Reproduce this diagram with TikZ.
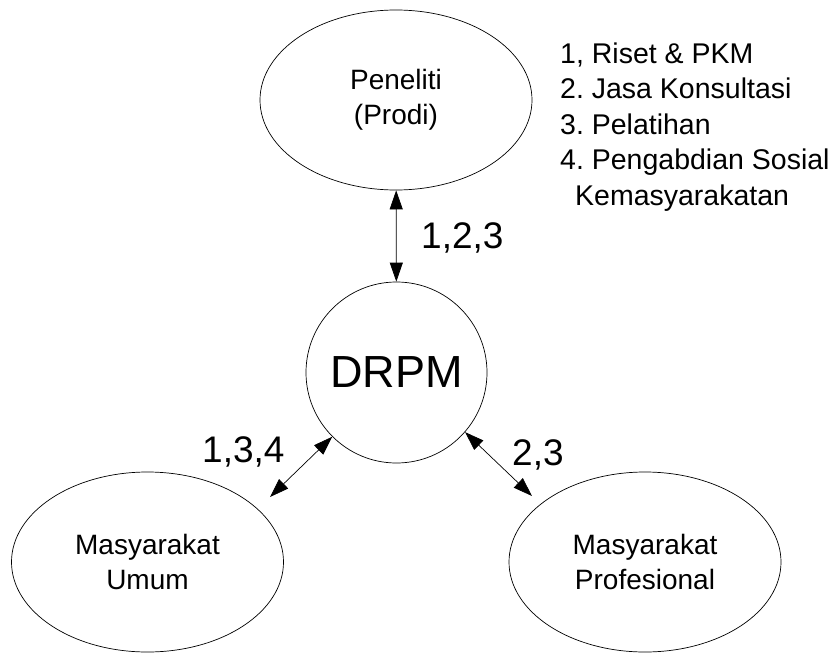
\documentclass[tikz,border=0pt]{standalone}
\usepackage{fontspec}
\setmainfont{Liberation Sans}
\usetikzlibrary{shapes.geometric, arrows.meta}
\frenchspacing

\begin{document}
\begin{tikzpicture}[x=1pt, y=-1pt,
    party/.style={draw, ellipse, line width=0.7pt, minimum width=272pt, minimum height=180pt, inner sep=0pt, align=center, font=\fontsize{28}{34.5}\selectfont},
    hub/.style={draw, circle, line width=0.7pt, minimum size=181pt, inner sep=0pt, font=\fontsize{45}{54}\selectfont},
    flow/.style={{Triangle[length=19pt,width=13pt]}-{Triangle[length=19pt,width=13pt]}, line width=0.7pt},
    code/.style={anchor=base west, inner sep=0pt, font=\fontsize{37}{44}\selectfont}]
    \useasboundingbox (0,0) rectangle (838,653);

    % parties
    \node[party] (peneliti) at (396,100) {Peneliti\\(Prodi)};
    \node[hub] (drpm) at (396.5,372.5) {DRPM};
    \node[party] (umum) at (147.5,562) {Masyarakat\\Umum};
    \node[party] (profesional) at (645,562) {Masyarakat\\Profesional};

    % free arrow ends
    \coordinate (umumtip) at (270,497);
    \coordinate (proftip) at (532,496);

    % arrows
    \draw[flow] (peneliti) -- (drpm);
    \draw[flow] (drpm.225) -- (umumtip);
    \draw[flow] (drpm.-41) -- (proftip);

    % labels
    \node[code] (kode123) at (421,248) {1,2,3};
    \node[code] (kode134) at (202,462) {1,3,4};
    \node[code] (kode23) at (512,465) {2,3};

    % legend
    \node[anchor=north west, inner sep=0pt, align=left, font=\fontsize{28.5}{35.5}\selectfont] (legenda) at (560,42.3)
        {1, Riset \& PKM\\2. Jasa Konsultasi\\3. Pelatihan\\4. Pengabdian Sosial\\\hspace*{15pt}Kemasyarakatan};
\end{tikzpicture}
\end{document}
